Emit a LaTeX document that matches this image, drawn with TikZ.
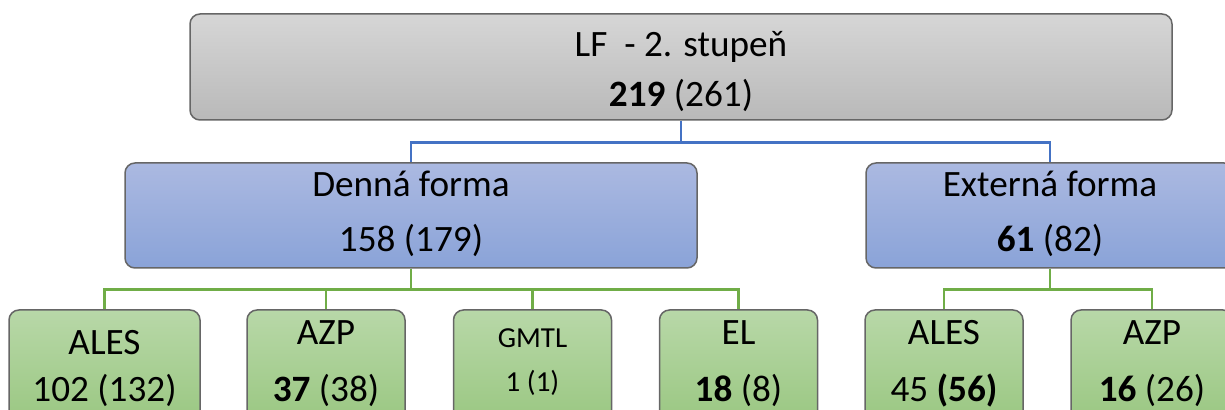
\documentclass[tikz,border=0pt]{standalone}
\usepackage{fontspec}
\setmainfont{Carlito}
\definecolor{boxLine}{HTML}{666666}
\definecolor{grayTop}{HTML}{D6D6D6}
\definecolor{grayBot}{HTML}{B9B9B9}
\definecolor{blueTop}{HTML}{ABB9E1}
\definecolor{blueBot}{HTML}{8AA3D8}
\definecolor{greenTop}{HTML}{B8D8A8}
\definecolor{greenBot}{HTML}{98C67F}
\definecolor{linkBlue}{HTML}{4472C4}
\definecolor{linkGreen}{HTML}{70AD47}
\begin{document}
\begin{tikzpicture}[x=0.5pt, y=-0.5pt,
    box/.style={draw=boxLine, line width=0.75pt, rounded corners=5pt, inner sep=0pt},
    graybox/.style={box, top color=grayTop, bottom color=grayBot},
    bluebox/.style={box, top color=blueTop, bottom color=blueBot},
    greenbox/.style={box, top color=greenTop, bottom color=greenBot, minimum width=79pt, minimum height=60pt},
    txt/.style={anchor=base, inner sep=0pt, font=\fontsize{18.6}{18.6}\selectfont},
    smalltxt/.style={txt, font=\fontsize{14.5}{14.5}\selectfont},
    blueline/.style={draw=linkBlue, line width=1.25pt},
    greenline/.style={draw=linkGreen, line width=1.25pt}]
    \clip (0,0) rectangle (1225,410);

    % boxes
    \node[graybox, minimum width=491pt, minimum height=53pt] (lf) at (681,67) {};
    \node[bluebox, minimum width=286pt, minimum height=52.5pt] (denna) at (411,215.5) {};
    \node[bluebox, minimum width=184pt, minimum height=52.5pt] (externa) at (1050,215.5) {};

    \node[greenbox, minimum width=95.5pt] (ales1) at (104.5,370) {};
    \node[greenbox] (azp1) at (326,370) {};
    \node[greenbox] (gmtl) at (532.5,370) {};
    \node[greenbox] (el) at (738.5,370) {};
    \node[greenbox] (ales2) at (944,370) {};
    \node[greenbox, minimum width=81pt] (azp2) at (1152,370) {};

    % connectors
    \draw[blueline] (lf.south) -- ++(0,22) -| (denna.north);
    \draw[blueline] (lf.south) -- ++(0,22) -| (externa.north);
    \foreach \b in {ales1,azp1,gmtl,el}
        \draw[greenline] (denna.south) -- ++(0,21) -| (\b.north);
    \foreach \b in {ales2,azp2}
        \draw[greenline] (externa.south) -- ++(0,21) -| (\b.north);

    % texts
    \node[txt] (lfname) at (681,57) {LF\ \ - 2. stupeň};
    \node[txt] (lfnum) at (681,107) {\textbf{219} (261)};
    \node[txt] (dennaname) at (411,197) {Denná forma};
    \node[txt] (dennanum) at (411,252) {158 (179)};
    \node[txt] (externaname) at (1050,197) {Externá forma};
    \node[txt] (externanum) at (1050,252) {\textbf{61} (82)};

    \node[txt] (ales1name) at (104.5,355) {ALES};
    \node[txt] (ales1num) at (104.5,402) {102 (132)};
    \node[txt] (azp1name) at (326,345) {AZP};
    \node[txt] (azp1num) at (326,402) {\textbf{37} (38)};
    \node[smalltxt] (gmtlname) at (532.5,348) {GMTL};
    \node[smalltxt] (gmtlnum) at (532.5,392) {1 (1)};
    \node[txt] (elname) at (738.5,345) {EL};
    \node[txt] (elnum) at (738.5,402) {\textbf{18} (8)};
    \node[txt] (ales2name) at (944,345) {ALES};
    \node[txt] (ales2num) at (944,402) {45 \textbf{(56)}};
    \node[txt] (azp2name) at (1152,345) {AZP};
    \node[txt] (azp2num) at (1152,402) {\textbf{16} (26)};
\end{tikzpicture}
\end{document}
